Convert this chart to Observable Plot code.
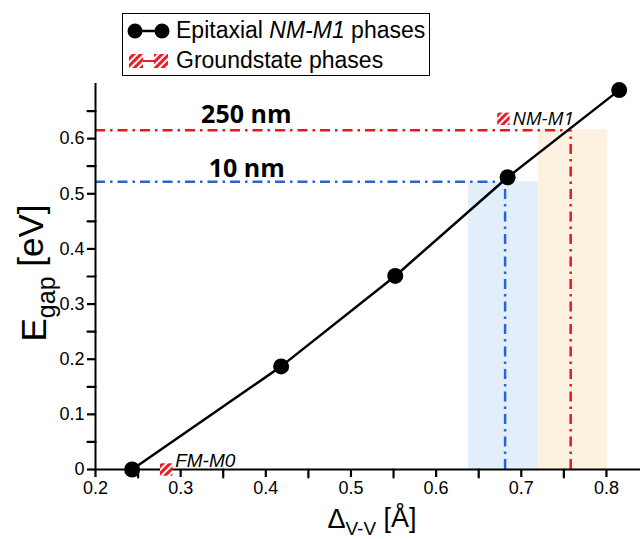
<!DOCTYPE html>
<html>
<head>
<meta charset="utf-8">
<script src="https://cdn.jsdelivr.net/npm/d3@7"></script>
<script src="https://cdn.jsdelivr.net/npm/@observablehq/plot@0.6"></script>
<style>
  html, body { margin: 0; padding: 0; background: #fff; }
  #wrap { position: relative; width: 640px; height: 539px; font-family: "Liberation Sans", Arial, sans-serif; }
  #legend { position: absolute; left: 122px; top: 13px; width: 306px; height: 61px; border: 1.5px solid #000; background: #fff; box-sizing: content-box; }
  .row { position: absolute; left: 0; height: 29px; display: flex; align-items: center; font-size: 23px; color: #000; white-space: nowrap; }
  .row svg { margin-left: 2px; margin-right: 4px; }
</style>
</head>
<body>
<svg width="0" height="0" style="position:absolute">
  <defs>
    <pattern id="hatch" width="5" height="5" patternUnits="userSpaceOnUse" patternTransform="rotate(45)">
      <rect width="5" height="5" fill="#ee1c25"></rect>
      <rect x="0" width="2" height="5" fill="#fff"></rect>
    </pattern>
  </defs>
</svg>
<div id="wrap">
  <div id="legend">
    <div class="row" style="top:2px">
      <svg width="47" height="20"><line x1="10" y1="10" x2="37" y2="10" stroke="#000" stroke-width="2.5"></line><circle cx="10" cy="10" r="7.5" fill="#000"></circle><circle cx="37" cy="10" r="7.5" fill="#000"></circle></svg>
      <span>Epitaxial <i>NM-M1</i> phases</span>
    </div>
    <div class="row" style="top:32px">
      <svg width="47" height="20"><line x1="12" y1="10" x2="34" y2="10" stroke="#ee1c25" stroke-width="2"></line><rect x="4" y="3" width="14" height="14" fill="url(#hatch)"></rect><rect x="29" y="3" width="14" height="14" fill="url(#hatch)"></rect></svg>
      <span>Groundstate phases</span>
    </div>
  </div>
</div>
<script>
// ---- data ----
const xDomain = [0.2, 0.84];
const yDomain = [0, 0.7];

const xTicks = [0.2, 0.3, 0.4, 0.5, 0.6, 0.7, 0.8];
const xTickLabels = ["0.2", "0.3", "0.4", "0.5", "0.6", "0.7", "0.8"];
const xMinor = [0.25, 0.35, 0.45, 0.55, 0.65, 0.75];
const yTicks = [0, 0.1, 0.2, 0.3, 0.4, 0.5, 0.6];
const yTickLabels = ["0", "0.1", "0.2", "0.3", "0.4", "0.5", "0.6"];
const yMinor = [0.05, 0.15, 0.25, 0.35, 0.45, 0.55, 0.65];

// Epitaxial NM-M1 phases
const epiX = [0.243, 0.418, 0.552, 0.684, 0.815];
const epiY = [0.0, 0.187, 0.351, 0.530, 0.688];

// Groundstate phases
const gsNames = ["FM-M0", "NM-M1"];
const gsX = [0.283, 0.679];
const gsY = [0.0, 0.636];

// Film thickness bands (10 nm, 250 nm)
const bandNames = ["10 nm", "250 nm"];
const bandX1 = [0.638, 0.720];
const bandX2 = [0.720, 0.801];
const bandTop = [0.522, 0.616];
const guideX = [0.681, 0.758];
const guideY = [0.522, 0.615];
const labelX = [0.333, 0.324];
const labelY = [0.531, 0.629];

// ---- tables ----
const bandColors = ["#e3eefb", "#fdf1df"];
const guideColors = ["#2a63d6", "#e8171f"];
const epi = epiX.map((x, i) => ({x, y: epiY[i]}));
const gs = gsNames.map((name, i) => ({name, x: gsX[i], y: gsY[i]}));
const bands = bandNames.map((name, i) => ({name, x1: bandX1[i], x2: bandX2[i], top: bandTop[i], gx: guideX[i], gy: guideY[i], lx: labelX[i], ly: labelY[i], fill: bandColors[i], stroke: guideColors[i]}));
const xLab = new Map(xTicks.map((t, i) => [t, xTickLabels[i]]));
const yLab = new Map(yTicks.map((t, i) => [t, yTickLabels[i]]));

const TICK = 8;
const dash = "10,5,2.5,5";

const chart = Plot.plot({
  width: 640,
  height: 539,
  marginTop: 83,
  marginLeft: 95,
  marginRight: 0,
  marginBottom: 70,
  x: {domain: xDomain, label: null},
  y: {domain: yDomain, label: null},
  style: {fontFamily: "'Liberation Sans', Arial, sans-serif", fontSize: "18px", color: "#000", background: "transparent"},
  marks: [
    Plot.rect(bands, {x1: "x1", x2: "x2", y1: yDomain[0], y2: "top", fill: "fill"}),
    Plot.ruleY(bands, {y: "gy", x1: xDomain[0], x2: "gx", stroke: "stroke", strokeWidth: 2.5, strokeDasharray: dash}),
    Plot.ruleX(bands, {x: "gx", y1: yDomain[0], y2: "gy", stroke: "stroke", strokeWidth: 2.5, strokeDasharray: dash}),
    Plot.text(bands, {x: "lx", y: "ly", text: "name", textAnchor: "start", lineAnchor: "bottom", fontFamily: "'Open Sans', sans-serif", fontWeight: "bold", fontSize: 25, fill: "#000"}),
    Plot.ruleX([xDomain[0]], {stroke: "#000", strokeWidth: 2}),
    Plot.ruleY([yDomain[0]], {stroke: "#000", strokeWidth: 2}),
    Plot.axisX(xTicks, {tickSize: TICK, stroke: "#000", strokeWidth: 2.2, tickPadding: 4, tickFormat: d => xLab.get(d), fontSize: 18, fill: "#000"}),
    Plot.axisY(yTicks, {tickSize: TICK, stroke: "#000", strokeWidth: 2.2, tickPadding: 3, tickFormat: d => yLab.get(d), fontSize: 18, fill: "#000"}),
    Plot.vector(xMinor, {x: d => d, y: yDomain[0], length: TICK, rotate: 180, anchor: "start", stroke: "#000", strokeWidth: 2.2, shape: "spike", r: 0}),
    Plot.vector(yMinor, {x: xDomain[0], y: d => d, length: TICK, rotate: -90, anchor: "start", stroke: "#000", strokeWidth: 2.2, shape: "spike", r: 0}),
    Plot.line(epi, {x: "x", y: "y", stroke: "#000", strokeWidth: 2.5}),
    Plot.dot(epi, {x: "x", y: "y", r: 8, fill: "#000"}),
    Plot.dot(gs, {x: "x", y: "y", symbol: "square", r: 7, fill: "url(#hatch)"}),
    Plot.text(gs.filter(d => d.name === "FM-M0"), {x: "x", y: "y", text: "name", dx: 9, dy: -9, textAnchor: "start", fontStyle: "italic", fontSize: 19, fontFamily: "'Liberation Sans', Arial, sans-serif", fill: "#000"}),
    Plot.text(gs.filter(d => d.name === "NM-M1"), {x: "x", y: "y", text: "name", dx: 9, dy: 0, textAnchor: "start", fontStyle: "italic", fontSize: 19, fontFamily: "'Open Sans', sans-serif", fill: "#000"})
  ]
});

const svg = d3.select(chart);
// y axis title: E_gap [eV]
const yt = svg.append("text")
  .attr("transform", "translate(46,273) rotate(-90)")
  .attr("text-anchor", "middle")
  .attr("font-family", "'Liberation Sans', Arial, sans-serif")
  .attr("font-size", 35)
  .attr("fill", "#000");
yt.append("tspan").text("E");
yt.append("tspan").attr("font-size", 25).attr("dy", "0.35em").text("gap");
yt.append("tspan").attr("dy", "-0.35em").text(" [eV]");
// x axis title: Δ_V-V [Å]
const xt = svg.append("text")
  .attr("x", 372).attr("y", 528)
  .attr("text-anchor", "middle")
  .attr("font-family", "'Liberation Sans', Arial, sans-serif")
  .attr("font-size", 27)
  .attr("fill", "#000");
xt.append("tspan").text("Δ");
xt.append("tspan").attr("font-size", 19).attr("dy", "0.35em").text("V-V");
xt.append("tspan").attr("dy", "-0.3em").text(" [Å]");

chart.style.position = "absolute";
chart.style.left = "0";
chart.style.top = "0";
document.getElementById("wrap").prepend(chart);
</script>
</body>
</html>
